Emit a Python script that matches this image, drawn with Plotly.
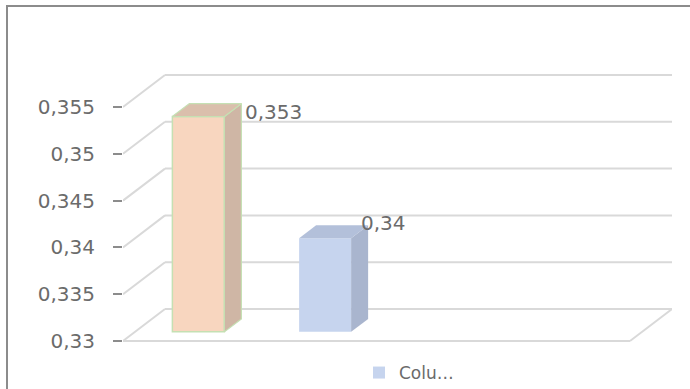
import plotly.graph_objects as go

# ---------------- data ----------------
series_name = "Colu…"
values = [0.353, 0.34]
value_labels = ["0,353", "0,34"]
y_ticks = [0.33, 0.335, 0.34, 0.345, 0.35, 0.355]
y_tick_labels = ["0,33", "0,335", "0,34", "0,345", "0,35", "0,355"]

# ---------------- layout / style ----------------
Y_MIN = 0.33
N_SLOTS = 4
CU = 126.75          # px per category unit
VU = 9360.0          # px per value unit
DX = 42 / CU         # depth offset (x units)
DY = 32 / VU         # depth offset (value units)
F1, F2 = 12 / 42, 29 / 42
BAR_W = 52 / CU

front_colors = ["#F8D6BF", "#C6D4EE"]
top_colors = ["#DABFAC", "#B3C0DA"]
side_colors = ["#CFB6A5", "#A9B5CE"]
outline_colors = ["#C5E0B3", None]
label_shift = [(19, 5), (8, 15)]

GRID = "#D9D9D9"
TEXT = "#6B6B6B"
FONT = "DejaVu Sans"

fig = go.Figure()
annotations = []

for i, v in enumerate(values):
    xc = i + F1 * DX
    x0, x1 = xc - BAR_W / 2, xc + BAR_W / 2
    b = Y_MIN + F1 * DY
    t = v + F1 * DY
    ddx = (F2 - F1) * DX
    ddy = (F2 - F1) * DY
    oc = outline_colors[i]
    line_kw = dict(color=oc, width=1.5) if oc else dict(width=0)
    # side face
    fig.add_trace(go.Scatter(
        x=[x1, x1 + ddx, x1 + ddx, x1, x1], y=[b, b + ddy, t + ddy, t, b],
        fill="toself", fillcolor=side_colors[i], mode="lines",
        line=dict(color=oc, width=1.2) if oc else dict(width=0, color=side_colors[i]),
        showlegend=False, hoverinfo="skip"))
    # top face
    fig.add_trace(go.Scatter(
        x=[x0, x1, x1 + ddx, x0 + ddx, x0], y=[t, t, t + ddy, t + ddy, t],
        fill="toself", fillcolor=top_colors[i], mode="lines",
        line=dict(color=oc, width=1.2) if oc else dict(width=0, color=top_colors[i]),
        showlegend=False, hoverinfo="skip"))
    # front face
    fig.add_trace(go.Bar(
        x=[xc], y=[v - Y_MIN], base=[b], width=[BAR_W],
        marker=dict(color=front_colors[i], line=line_kw),
        name=series_name, showlegend=(i == 1), hoverinfo="skip"))
    sx, sy = label_shift[i]
    annotations.append(dict(
        x=x1, y=t, xref="x", yref="y", text=value_labels[i], showarrow=False,
        xanchor="left", yanchor="middle", xshift=sx, yshift=sy,
        font=dict(family=FONT, size=20, color=TEXT)))

shapes = []
xl = -0.5
xr = N_SLOTS - 0.5
for v in y_ticks:
    shapes.append(dict(type="line", xref="x", yref="y", x0=xl, y0=v, x1=xl + DX, y1=v + DY,
                       line=dict(color=GRID, width=2), layer="below"))
    shapes.append(dict(type="line", xref="x", yref="y", x0=xl + DX, y0=v + DY, x1=xr + DX, y1=v + DY,
                       line=dict(color=GRID, width=2), layer="below"))
shapes.append(dict(type="line", xref="x", yref="y", x0=xl, y0=Y_MIN, x1=xr, y1=Y_MIN,
                   line=dict(color=GRID, width=2), layer="below"))
shapes.append(dict(type="line", xref="x", yref="y", x0=xr, y0=Y_MIN, x1=xr + DX, y1=Y_MIN + DY,
                   line=dict(color=GRID, width=2), layer="below"))

# outer chart frame (extends beyond the visible window)
PL, PT, PW, PH = 123, 60, 549, 285
def px_to_paper_x(px):
    return (px - PL) / PW
def px_to_paper_y(py):
    return (PT + PH - py) / PH
shapes.append(dict(type="rect", xref="paper", yref="paper",
                   x0=px_to_paper_x(7), y0=px_to_paper_y(6),
                   x1=px_to_paper_x(720), y1=px_to_paper_y(420),
                   line=dict(color="#8C8C8C", width=2), fillcolor="rgba(0,0,0,0)", layer="above"))

fig.update_layout(
    width=690, height=389,
    margin=dict(l=PL, r=690 - PL - PW, t=PT, b=389 - PT - PH, autoexpand=False),
    paper_bgcolor="white", plot_bgcolor="white",
    barmode="overlay",
    font=dict(family=FONT, color=TEXT),
    xaxis=dict(range=[xl, xr + DX], visible=False, fixedrange=True),
    yaxis=dict(range=[Y_MIN - 4 / VU, Y_MIN + 281 / VU],
               tickvals=y_ticks, ticktext=y_tick_labels,
               showgrid=False, zeroline=False, showline=False,
               ticks="outside", ticklen=9, tickwidth=2, tickcolor="#8C8C8C",
               ticklabelstandoff=14,
               tickfont=dict(family=FONT, size=20, color=TEXT)),
    shapes=shapes,
    annotations=annotations,
    showlegend=True,
    legend=dict(x=px_to_paper_x(359), y=px_to_paper_y(355), xanchor="left", yanchor="top",
                bgcolor="rgba(0,0,0,0)", font=dict(family=FONT, size=17, color=TEXT)),
)

fig.write_html("out.html")
